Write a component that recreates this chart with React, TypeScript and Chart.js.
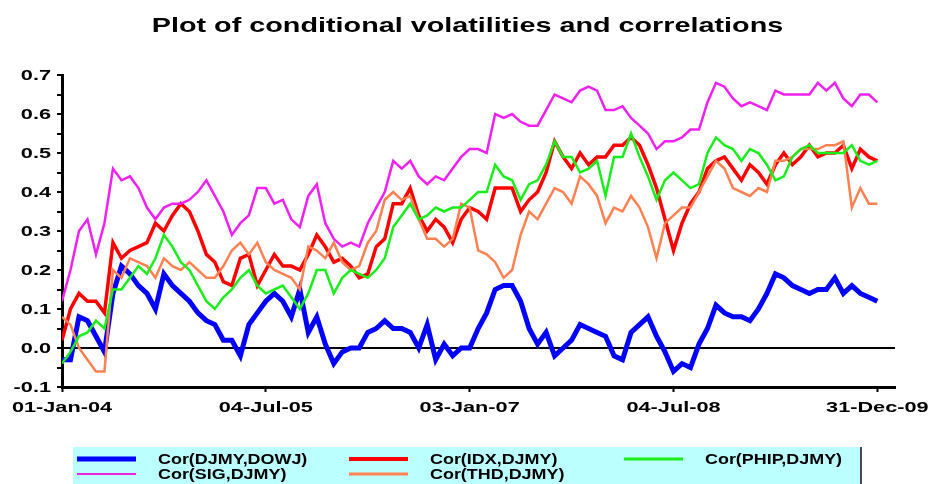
import React, { useEffect, useRef } from "react";
import { Chart, registerables } from "chart.js";

Chart.register(...registerables);

const TITLE = "Plot of conditional volatilities and correlations";

// sample times in years since 01-Jan-04 (one sample every 1/16 year)
const SAMPLE_COUNT = 97;
const sampleTimes: number[] = Array.from({ length: SAMPLE_COUNT }, (_, i) => i / 16);

const xTickValues = [0, 1.5, 3, 4.5, 6];
const xTickLabels = ["01-Jan-04", "04-Jul-05", "03-Jan-07", "04-Jul-08", "31-Dec-09"];

const seriesNames = ["Cor(DJMY,DOWJ)", "Cor(IDX,DJMY)", "Cor(PHIP,DJMY)", "Cor(SIG,DJMY)", "Cor(THD,DJMY)"];
const seriesColors = ["#0000ff", "#ff0000", "#1aee1a", "#f020f0", "#ff8050"];
const seriesWidths = [5, 3.5, 2.5, 2.5, 2.5];
const legendWidths = [5, 4, 3, 2, 3];
const seriesOrder = [5, 4, 2, 1, 3];

const corDowj = [
  -0.03, -0.03, 0.08, 0.07, 0.03, -0.01, 0.14, 0.21, 0.19, 0.16, 0.14, 0.10, 0.19, 0.16, 0.14, 0.12, 0.09, 0.07, 0.06, 0.02, 0.02, -0.02, 0.06, 0.09, 0.12,
  0.14, 0.12, 0.08, 0.15, 0.04, 0.08, 0.01, -0.04, -0.01, 0.00, 0.00, 0.04, 0.05, 0.07, 0.05, 0.05, 0.04, 0.00, 0.06, -0.03, 0.01, -0.02, 0.00, 0.00, 0.05,
  0.09, 0.15, 0.16, 0.16, 0.12, 0.05, 0.01, 0.04, -0.02, 0.00, 0.02, 0.06, 0.05, 0.04, 0.03, -0.02, -0.03, 0.04, 0.06, 0.08, 0.03, -0.01, -0.06, -0.04, -0.05,
  0.01, 0.05, 0.11, 0.09, 0.08, 0.08, 0.07, 0.10, 0.14, 0.19, 0.18, 0.16, 0.15, 0.14, 0.15, 0.15, 0.18, 0.14, 0.16, 0.14, 0.13, 0.12,
];
const corIdx = [
  0.02, 0.10, 0.14, 0.12, 0.12, 0.09, 0.27, 0.23, 0.25, 0.26, 0.27, 0.32, 0.30, 0.34, 0.37, 0.35, 0.30, 0.24, 0.22, 0.17, 0.16, 0.23, 0.24, 0.16, 0.20,
  0.24, 0.21, 0.21, 0.20, 0.24, 0.29, 0.26, 0.22, 0.23, 0.21, 0.18, 0.19, 0.26, 0.28, 0.37, 0.37, 0.41, 0.34, 0.30, 0.33, 0.31, 0.27, 0.33, 0.36, 0.35,
  0.33, 0.41, 0.41, 0.41, 0.35, 0.38, 0.40, 0.45, 0.53, 0.49, 0.46, 0.50, 0.47, 0.49, 0.49, 0.52, 0.52, 0.54, 0.52, 0.47, 0.41, 0.33, 0.25, 0.32, 0.37,
  0.40, 0.46, 0.48, 0.49, 0.46, 0.43, 0.47, 0.45, 0.42, 0.47, 0.50, 0.47, 0.49, 0.52, 0.49, 0.50, 0.50, 0.52, 0.46, 0.51, 0.49, 0.48,
];
const corPhip = [
  -0.04, -0.01, 0.03, 0.04, 0.07, 0.05, 0.15, 0.15, 0.18, 0.21, 0.19, 0.23, 0.29, 0.26, 0.22, 0.20, 0.16, 0.12, 0.10, 0.13, 0.15, 0.18, 0.20, 0.16, 0.14,
  0.15, 0.16, 0.13, 0.10, 0.14, 0.20, 0.20, 0.14, 0.18, 0.20, 0.19, 0.18, 0.20, 0.23, 0.31, 0.34, 0.37, 0.33, 0.34, 0.36, 0.35, 0.36, 0.36, 0.38, 0.40,
  0.40, 0.47, 0.44, 0.43, 0.38, 0.42, 0.43, 0.47, 0.53, 0.49, 0.49, 0.45, 0.46, 0.48, 0.39, 0.49, 0.49, 0.55, 0.49, 0.44, 0.38, 0.43, 0.45, 0.43, 0.41,
  0.42, 0.50, 0.54, 0.52, 0.51, 0.48, 0.51, 0.50, 0.47, 0.43, 0.44, 0.49, 0.51, 0.52, 0.50, 0.50, 0.50, 0.50, 0.52, 0.48, 0.47, 0.48,
];
const corSig = [
  0.12, 0.20, 0.30, 0.33, 0.24, 0.32, 0.46, 0.43, 0.44, 0.41, 0.36, 0.33, 0.36, 0.37, 0.37, 0.38, 0.40, 0.43, 0.39, 0.35, 0.29, 0.32, 0.34, 0.41, 0.41,
  0.37, 0.38, 0.33, 0.31, 0.39, 0.42, 0.32, 0.28, 0.26, 0.27, 0.26, 0.32, 0.36, 0.40, 0.48, 0.46, 0.48, 0.44, 0.42, 0.44, 0.43, 0.46, 0.49, 0.51, 0.51,
  0.50, 0.60, 0.59, 0.60, 0.58, 0.57, 0.57, 0.61, 0.65, 0.64, 0.63, 0.66, 0.67, 0.66, 0.61, 0.61, 0.62, 0.59, 0.57, 0.55, 0.51, 0.53, 0.53, 0.54, 0.56,
  0.56, 0.63, 0.68, 0.67, 0.64, 0.62, 0.63, 0.62, 0.61, 0.66, 0.65, 0.65, 0.65, 0.65, 0.68, 0.66, 0.68, 0.64, 0.62, 0.65, 0.65, 0.63,
];
const corThd = [
  0.08, 0.06, 0.00, -0.03, -0.06, -0.06, 0.20, 0.18, 0.23, 0.22, 0.21, 0.18, 0.23, 0.21, 0.20, 0.22, 0.20, 0.18, 0.18, 0.21, 0.25, 0.27, 0.24, 0.27, 0.22,
  0.20, 0.19, 0.18, 0.15, 0.26, 0.25, 0.23, 0.27, 0.22, 0.20, 0.21, 0.27, 0.30, 0.38, 0.40, 0.38, 0.39, 0.33, 0.28, 0.28, 0.26, 0.28, 0.37, 0.36, 0.25,
  0.24, 0.22, 0.18, 0.20, 0.29, 0.35, 0.33, 0.37, 0.41, 0.40, 0.37, 0.44, 0.42, 0.39, 0.32, 0.36, 0.35, 0.39, 0.36, 0.31, 0.23, 0.32, 0.34, 0.36, 0.36,
  0.40, 0.44, 0.48, 0.46, 0.41, 0.40, 0.39, 0.41, 0.40, 0.48, 0.48, 0.49, 0.51, 0.51, 0.51, 0.52, 0.52, 0.53, 0.36, 0.41, 0.37, 0.37,
];

const seriesValues = [corDowj, corIdx, corPhip, corSig, corThd];

const FONT = "'Liberation Sans', Arial, Helvetica, sans-serif";

function stretchText(
  ctx: CanvasRenderingContext2D,
  text: string,
  x: number,
  y: number,
  sx: number,
  align: CanvasTextAlign,
  baseline: CanvasTextBaseline
) {
  ctx.save();
  ctx.translate(x, y);
  ctx.scale(sx, 1);
  ctx.textAlign = align;
  ctx.textBaseline = baseline;
  ctx.fillText(text, 0, 0);
  ctx.restore();
}

const decorPlugin = {
  id: "decor",
  afterDraw(chart: any) {
    const ctx: CanvasRenderingContext2D = chart.ctx;
    const area = chart.chartArea;
    const ys = chart.scales.y;
    const xs = chart.scales.x;
    ctx.save();
    ctx.fillStyle = "#000";

    // title
    ctx.font = `bold 21px ${FONT}`;
    stretchText(ctx, TITLE, chart.width / 2 + 3, 32, 1.37, "center", "alphabetic");

    // y tick labels (every 0.1)
    ctx.font = `bold 14px ${FONT}`;
    ys.ticks.forEach((t: any) => {
      const v = t.value;
      if (Math.abs(v * 10 - Math.round(v * 10)) > 1e-6) return;
      const label = (Math.round(v * 10) / 10).toFixed(1).replace("-0.0", "0.0");
      stretchText(ctx, label, area.left - 11, ys.getPixelForValue(v) + 1, 1.55, "right", "middle");
    });

    // x tick labels
    xTickValues.forEach((v, i) => {
      stretchText(ctx, xTickLabels[i], xs.getPixelForValue(v), 408, 1.55, "center", "middle");
    });

    // legend box
    const boxX = 73;
    const boxY = 447;
    const boxR = 862;
    ctx.fillStyle = "#bcffff";
    ctx.fillRect(boxX, boxY, boxR - boxX, chart.height - boxY);
    ctx.fillStyle = "#4a4a4a";
    ctx.fillRect(boxR - 2, boxY, 2, chart.height - boxY);

    const colX = [77, 349, 624];
    const rowY = [459, 474];
    ctx.font = `bold 14px ${FONT}`;
    chart.data.datasets.forEach((ds: any, i: number) => {
      const cx = colX[i % 3];
      const cy = rowY[Math.floor(i / 3)];
      ctx.strokeStyle = ds.borderColor;
      ctx.lineWidth = legendWidths[i];
      ctx.beginPath();
      ctx.moveTo(cx, cy);
      ctx.lineTo(cx + 59, cy);
      ctx.stroke();
      ctx.fillStyle = "#000";
      stretchText(ctx, ds.label, cx + 81, cy + 1, 1.28, "left", "middle");
    });

    ctx.restore();
  },
};

export default function App() {
  const canvasRef = useRef<HTMLCanvasElement | null>(null);

  useEffect(() => {
    if (!canvasRef.current) return;
    const datasets = seriesNames.map((name, s) => ({
      label: name,
      data: sampleTimes.map((t, i) => ({ x: t, y: seriesValues[s][i] })),
      borderColor: seriesColors[s],
      backgroundColor: seriesColors[s],
      borderWidth: seriesWidths[s],
      borderJoinStyle: "miter" as const,
      pointRadius: 0,
      tension: 0,
      order: seriesOrder[s],
    }));

    const chart = new Chart(canvasRef.current, {
      type: "line",
      data: { datasets },
      options: {
        animation: false,
        responsive: false,
        devicePixelRatio: 1,
        layout: { padding: { top: 75, right: 34, bottom: 0, left: 0 } },
        plugins: {
          legend: { display: false },
          title: { display: false },
          tooltip: { enabled: false },
        },
        scales: {
          x: {
            type: "linear",
            min: 0,
            max: 6.13,
            afterBuildTicks: (scale: any) => {
              scale.ticks = xTickValues.map((v) => ({ value: v }));
            },
            afterFit: (scale: any) => {
              scale.height = 97;
            },
            ticks: { display: false },
            grid: {
              drawOnChartArea: false,
              drawTicks: true,
              tickLength: 5,
              tickColor: "#000",
              tickWidth: 2,
            },
            border: { display: true, color: "#000", width: 3 },
          },
          y: {
            type: "linear",
            min: -0.1,
            max: 0.7,
            afterFit: (scale: any) => {
              scale.width = 62;
            },
            ticks: { display: false, stepSize: 0.05 },
            grid: {
              drawOnChartArea: true,
              drawTicks: true,
              tickLength: 5,
              tickColor: "#000",
              tickWidth: 2,
              lineWidth: 2,
              color: (c: any) =>
                c.tick && Math.abs(c.tick.value) < 1e-9 ? "#000" : "rgba(0,0,0,0)",
            },
            border: { display: true, color: "#000", width: 3 },
          },
        },
      },
      plugins: [decorPlugin],
    });

    return () => chart.destroy();
  }, []);

  return (
    <div
      style={{
        position: "fixed",
        left: 0,
        top: 0,
        width: 929,
        height: 484,
        background: "#fff",
        overflow: "hidden",
      }}
    >
      <canvas ref={canvasRef} width={929} height={484} style={{ display: "block" }} />
    </div>
  );
}
